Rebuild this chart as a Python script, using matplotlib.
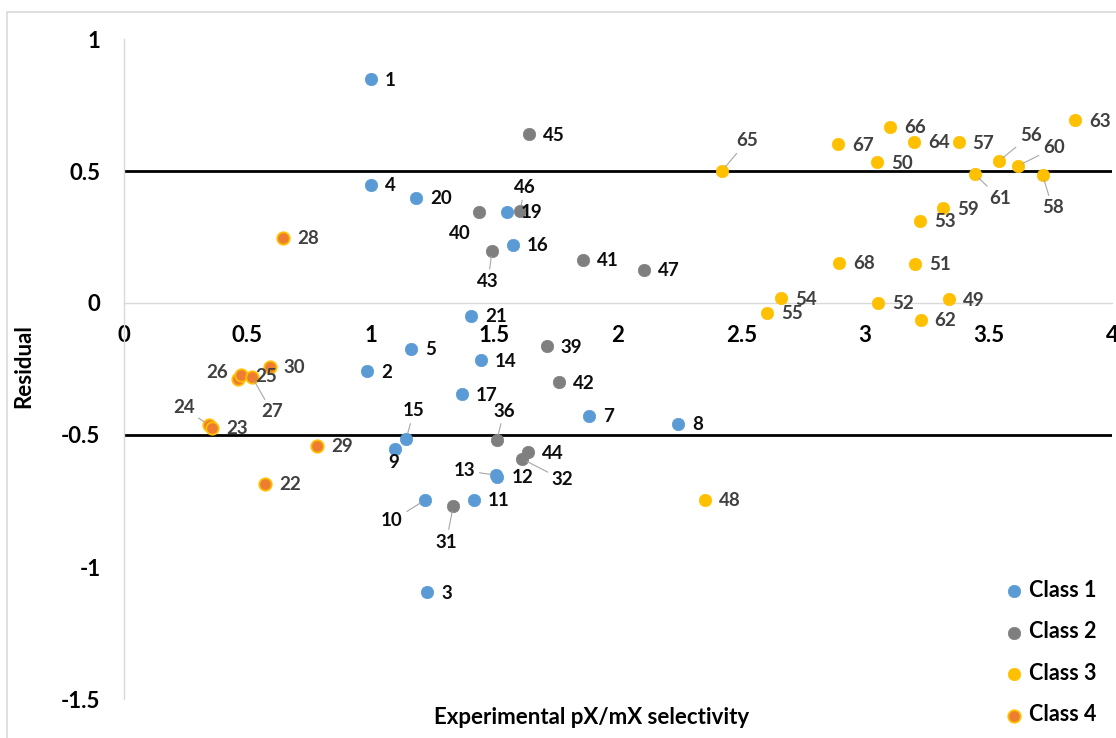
import matplotlib
matplotlib.use('Agg')
import matplotlib.pyplot as plt

plt.rcParams['font.family'] = ['Lato', 'DejaVu Sans']

# ---------------- data ----------------
c1_ids = [1, 4, 20, 19, 16, 21, 5, 14, 2, 17, 7, 8, 15, 9, 13, 12, 10, 11, 3]
c1_x = [1.000, 1.000, 1.182, 1.551, 1.575, 1.405, 1.162, 1.445, 0.984, 1.368,
        1.883, 2.243, 1.142, 1.097, 1.508, 1.512, 1.219, 1.417, 1.227]
c1_y = [0.848, 0.447, 0.398, 0.345, 0.220, -0.049, -0.174, -0.216, -0.258, -0.345,
        -0.428, -0.458, -0.515, -0.553, -0.653, -0.659, -0.746, -0.746, -1.095]

c2_ids = [45, 40, 46, 43, 41, 47, 39, 42, 36, 44, 32, 31]
c2_x = [1.638, 1.436, 1.603, 1.490, 1.860, 2.104, 1.711, 1.762, 1.510, 1.637, 1.610, 1.333]
c2_y = [0.639, 0.344, 0.350, 0.198, 0.163, 0.125, -0.164, -0.300, -0.519, -0.566, -0.590, -0.769]

c3_ids = [65, 67, 66, 64, 57, 50, 56, 60, 61, 58, 63, 59, 53, 68, 51, 54, 55, 52, 49, 62, 48]
c3_x = [2.421, 2.891, 3.101, 3.200, 3.379, 3.049, 3.541, 3.618, 3.445, 3.719, 3.850,
        3.317, 3.223, 2.896, 3.202, 2.660, 2.605, 3.053, 3.339, 3.225, 2.352]
c3_y = [0.500, 0.602, 0.667, 0.611, 0.609, 0.533, 0.537, 0.519, 0.487, 0.485, 0.693,
        0.359, 0.311, 0.152, 0.149, 0.018, -0.037, 0.000, 0.015, -0.064, -0.746]

c4_ids = [28, 30, 26, 25, 27, 24, 23, 29, 22]
c4_x = [0.644, 0.590, 0.462, 0.474, 0.518, 0.343, 0.358, 0.783, 0.572]
c4_y = [0.247, -0.241, -0.288, -0.273, -0.280, -0.462, -0.473, -0.540, -0.684]

class_names = ['Class 1', 'Class 2', 'Class 3', 'Class 4']
x_ticks = [0, 0.5, 1, 1.5, 2, 2.5, 3, 3.5, 4]
x_ticklabels = ['0', '0.5', '1', '1.5', '2', '2.5', '3', '3.5', '4']
y_ticks = [1, 0.5, 0, -0.5, -1, -1.5]
y_ticklabels = ['1', '0.5', '0', '-0.5', '-1', '-1.5']
thresholds = [0.5, -0.5]

# ---------------- label placement (pixel offsets, dy downwards) ----------------
special = {
    46: (5, -23, True), 40: (-19, 21, False), 43: (-4, 31, True),
    15: (8, -28, True), 9: (-1, 14, False), 36: (7, -29, True),
    32: (41, 21, True), 13: (-32, -5, True), 10: (-33, 21, True),
    31: (-7, 36, True), 65: (25, -30, True), 56: (32, -26, True),
    60: (36, -18, True), 61: (25, 24, True), 58: (10, 33, True),
    26: (-21, -7, False), 27: (20, 35, True), 24: (-25, -17, True),
}
PX = 0.72  # points per pixel at 100 dpi
LABEL_FS = 13.5

fig = plt.figure(figsize=(11.16, 7.38), dpi=100)
ax = fig.add_axes([124 / 1116, 1 - 699 / 738, 988 / 1116, 660 / 738])

# figure border (top and left visible)
fig.add_artist(plt.Rectangle((7 / 1116, -0.1), 1.2, (738 - 12) / 738 + 0.1,
                             transform=fig.transFigure, fill=False,
                             edgecolor='#D9D9D9', lw=1.2, zorder=0))

ax.set_xlim(0, 4)
ax.set_ylim(-1.5, 1)

for t in thresholds:
    ax.axhline(t, color='black', lw=2, zorder=1)

styles = [
    dict(color='#5B9BD5', edgecolor='#5B9BD5', linewidths=0.5),
    dict(color='#7F7F7F', edgecolor='#7F7F7F', linewidths=0.5),
    dict(color='#FFC000', edgecolor='#FFC000', linewidths=0.5),
    dict(color='#ED7D31', edgecolor='#FFC000', linewidths=1.3),
]
label_colors = ['#0D0D0D', '#0D0D0D', '#404040', '#404040']
groups = [(c1_ids, c1_x, c1_y), (c2_ids, c2_x, c2_y),
          (c3_ids, c3_x, c3_y), (c4_ids, c4_x, c4_y)]

handles = []
for (ids, xs, ys), st, lc, name in zip(groups, styles, label_colors, class_names):
    sc = ax.scatter(xs, ys, s=80, zorder=3, label=name,
                    facecolor=st['color'], edgecolor=st['edgecolor'],
                    linewidths=st['linewidths'])
    handles.append(sc)
    for i, x, y in zip(ids, xs, ys):
        if i in special:
            dx, dy, lead = special[i]
            ap = dict(arrowstyle='-', color='#A6A6A6', lw=0.8,
                      shrinkA=1, shrinkB=4) if lead else None
            ax.annotate(str(i), (x, y), xytext=(dx * PX, -dy * PX),
                        textcoords='offset points', ha='center', va='center',
                        fontsize=LABEL_FS, fontweight='bold', color=lc,
                        arrowprops=ap, zorder=4)
        else:
            ax.annotate(str(i), (x, y), xytext=(14 * PX, -1 * PX),
                        textcoords='offset points', ha='left', va='center',
                        fontsize=LABEL_FS, fontweight='bold', color=lc, zorder=4)

# axes styling
for s in ['top', 'right']:
    ax.spines[s].set_visible(False)
ax.spines['bottom'].set_position(('data', 0))
ax.spines['bottom'].set_color('#D9D9D9')
ax.spines['left'].set_color('#D9D9D9')
ax.spines['bottom'].set_linewidth(1)
ax.spines['left'].set_linewidth(1)
ax.set_xticks(x_ticks)
ax.set_xticklabels(x_ticklabels)
ax.set_yticks(y_ticks)
ax.set_yticklabels(y_ticklabels)
ax.tick_params(axis='both', length=0, labelsize=16)
ax.tick_params(axis='x', pad=16)
ax.tick_params(axis='y', pad=17)
for lab in ax.get_xticklabels() + ax.get_yticklabels():
    lab.set_fontweight('bold')
    lab.set_color('black')

ax.set_xlabel('Experimental pX/mX selectivity', fontsize=16, fontweight='bold')
ax.xaxis.set_label_coords((592 - 124) / 988, (699 - 707) / 660)
ax.set_ylabel('Residual', fontsize=16, fontweight='bold')
ax.yaxis.set_label_coords((34 - 124) / 988, (699 - 366) / 660)

fig.legend(handles=handles, labels=class_names, loc='upper left',
           bbox_to_anchor=(1003 / 1116, 1 - 580 / 738), frameon=False,
           borderpad=0, borderaxespad=0, handlelength=1.0, handletextpad=0.2,
           labelspacing=0.95, scatterpoints=1,
           prop=dict(family=['Lato', 'DejaVu Sans'], weight='bold', size=15.5))

fig.savefig('out.png', dpi=100)
